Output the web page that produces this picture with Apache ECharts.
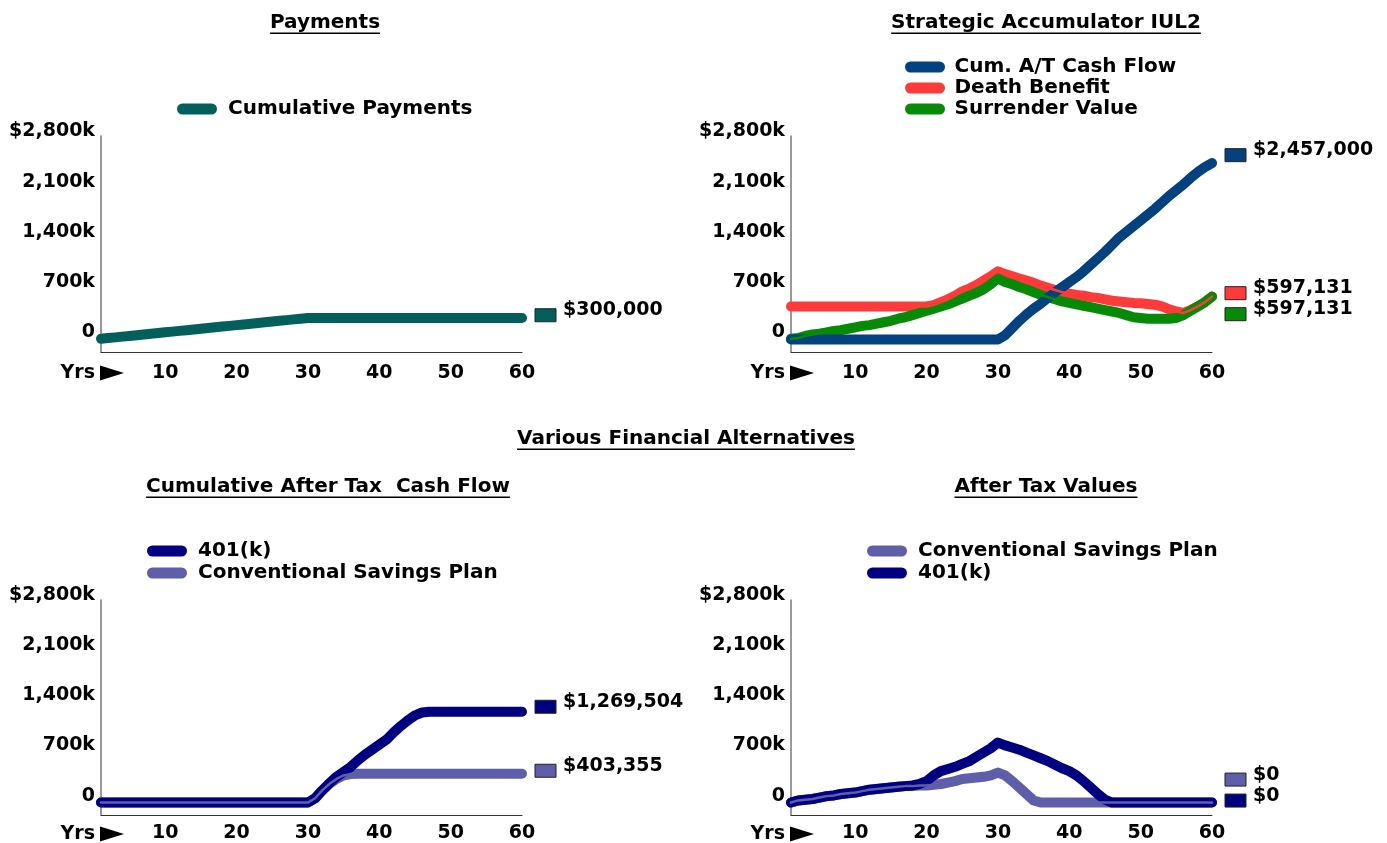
<!DOCTYPE html>
<html lang="en">
<head>
<meta charset="utf-8">
<title>Payments / Various Financial Alternatives</title>
<script src="https://cdn.jsdelivr.net/npm/echarts@6/dist/echarts.min.js"></script>
<style>
    html, body { margin: 0; padding: 0; background: #fff; }
    #main { width: 1387px; height: 843px; }
</style>
</head>
<body>
<div id="main"></div>
<script type="text/javascript">
    // ---- data ----
    const years = [1, 2, 3, 4, 5, 6, 7, 8, 9, 10, 11, 12, 13, 14, 15, 16, 17, 18, 19, 20,
        21, 22, 23, 24, 25, 26, 27, 28, 29, 30, 31, 32, 33, 34, 35, 36, 37, 38, 39, 40,
        41, 42, 43, 44, 45, 46, 47, 48, 49, 50, 51, 52, 53, 54, 55, 56, 57, 58, 59, 60];
    const yTicks = [0, 700000, 1400000, 2100000, 2800000];

    const cumPayments = [10000, 20000, 30000, 40000, 50000, 60000, 70000, 80000, 90000, 100000,
        110000, 120000, 130000, 140000, 150000, 160000, 170000, 180000, 190000, 200000,
        210000, 220000, 230000, 240000, 250000, 260000, 270000, 280000, 290000, 300000,
        300000, 300000, 300000, 300000, 300000, 300000, 300000, 300000, 300000, 300000,
        300000, 300000, 300000, 300000, 300000, 300000, 300000, 300000, 300000, 300000,
        300000, 300000, 300000, 300000, 300000, 300000, 300000, 300000, 300000, 300000];

    const cumAtCashFlow = [0, 0, 0, 0, 0, 0, 0, 0, 0, 0, 0, 0, 0, 0, 0, 0, 0, 0, 0, 0,
        0, 0, 0, 0, 0, 0, 0, 0, 0, 0,
        60000, 160000, 260000, 350000, 430000, 500000, 580000, 660000, 730000, 800000,
        870000, 950000, 1040000, 1130000, 1220000, 1320000, 1420000, 1500000, 1580000, 1660000,
        1740000, 1820000, 1910000, 2000000, 2080000, 2160000, 2250000, 2330000, 2400000, 2457000];
    const deathBenefit = [460000, 460000, 460000, 460000, 460000, 460000, 460000, 460000, 460000, 460000,
        460000, 460000, 460000, 460000, 460000, 460000, 460000, 460000, 460000, 460000,
        480000, 520000, 560000, 610000, 670000, 710000, 760000, 820000, 880000, 950000,
        910000, 880000, 850000, 820000, 790000, 750000, 720000, 690000, 660000, 640000,
        620000, 610000, 590000, 580000, 560000, 540000, 530000, 520000, 510000, 505000,
        495000, 485000, 460000, 420000, 390000, 370000, 410000, 460000, 520000, 597131];
    const surrenderValue = [10000, 20000, 50000, 70000, 80000, 100000, 120000, 130000, 150000, 170000,
        190000, 200000, 220000, 240000, 260000, 290000, 310000, 340000, 370000, 400000,
        430000, 460000, 490000, 530000, 570000, 610000, 650000, 700000, 770000, 850000,
        800000, 770000, 730000, 700000, 660000, 620000, 590000, 560000, 530000, 510000,
        490000, 470000, 450000, 430000, 410000, 390000, 370000, 340000, 310000, 300000,
        290000, 290000, 290000, 290000, 300000, 340000, 400000, 460000, 520000, 597131];

    const k401Cum = [0, 0, 0, 0, 0, 0, 0, 0, 0, 0, 0, 0, 0, 0, 0, 0, 0, 0, 0, 0,
        0, 0, 0, 0, 0, 0, 0, 0, 0, 0,
        60000, 170000, 270000, 360000, 430000, 500000, 590000, 670000, 740000, 810000,
        880000, 980000, 1070000, 1150000, 1220000, 1260000, 1269504, 1269504, 1269504, 1269504,
        1269504, 1269504, 1269504, 1269504, 1269504, 1269504, 1269504, 1269504, 1269504, 1269504];
    const conventionalCum = [0, 0, 0, 0, 0, 0, 0, 0, 0, 0, 0, 0, 0, 0, 0, 0, 0, 0, 0, 0,
        0, 0, 0, 0, 0, 0, 0, 0, 0, 0,
        60000, 170000, 260000, 330000, 380000, 400000, 403355, 403355, 403355, 403355,
        403355, 403355, 403355, 403355, 403355, 403355, 403355, 403355, 403355, 403355,
        403355, 403355, 403355, 403355, 403355, 403355, 403355, 403355, 403355, 403355];

    const conventionalAT = [0, 30000, 40000, 50000, 70000, 90000, 100000, 120000, 130000, 140000,
        160000, 180000, 190000, 200000, 210000, 220000, 230000, 230000, 240000, 240000,
        250000, 260000, 280000, 300000, 330000, 340000, 350000, 360000, 380000, 420000,
        380000, 300000, 210000, 120000, 30000, 0, 0, 0, 0, 0,
        0, 0, 0, 0, 0, 0, 0, 0, 0, 0, 0, 0, 0, 0, 0, 0, 0, 0, 0, 0];
    const k401AT = [0, 30000, 40000, 50000, 70000, 90000, 100000, 120000, 130000, 140000,
        160000, 180000, 190000, 200000, 210000, 220000, 230000, 240000, 260000, 300000,
        380000, 440000, 470000, 500000, 540000, 580000, 640000, 700000, 760000, 840000,
        800000, 770000, 740000, 700000, 660000, 620000, 580000, 530000, 480000, 440000,
        380000, 300000, 210000, 120000, 40000, 0, 0, 0, 0, 0,
        0, 0, 0, 0, 0, 0, 0, 0, 0, 0];

    // ---- styling ----
    const FONT = 'DejaVu Sans';
    const TEAL = '#035f5b';
    const BLUE = '#03417f';
    const RED = '#ff3a3a';
    const GREEN = '#078a07';
    const NAVY = '#000080';
    const LAVENDER = '#5e5eab';
    const PILL = 'path://M5.5,0H34.5A5.5,5.5,0,0,1,34.5,11H5.5A5.5,5.5,0,0,1,5.5,0Z';

    const grids = [
        {left: 101, top: 136, width: 421, height: 216},
        {left: 791, top: 136, width: 421, height: 216},
        {left: 101, top: 600, width: 421, height: 216},
        {left: 791, top: 600, width: 421, height: 216}
    ];
    const xLabelMargin = [12, 12, 9, 9];

    function fmtTick(v)
    {
        if (v === 0) return '0';
        const s = (v / 1000).toLocaleString('en-US') + 'k';
        return v === 2800000 ? '$' + s : s;
    }

    function line(name, data, color, i, width)
    {
        return {
            type: 'line', name: name, data: data,
            xAxisIndex: i, yAxisIndex: i,
            symbol: 'none', showSymbol: false, silent: true,
            color: color,
            lineStyle: {color: color, width: width, cap: 'round', join: 'round'}
        };
    }

    // panels: series in legend order, plus which ones get a thin centre line drawn on top
    const panels = [
        {
            title: 'Payments', tx: 325, ty: 22,
            legend: {left: 172, top: 93.5, w: 40, pad: 6, lh: 21},
            series: [{name: 'Cumulative Payments', data: cumPayments, color: TEAL}],
            thick: [0], thin: []
        },
        {
            title: 'Strategic Accumulator IUL2', tx: 1046, ty: 22,
            legend: {left: 900, top: 51.5, w: 45, pad: 2, lh: 21},
            series: [
                {name: 'Cum. A/T Cash Flow', data: cumAtCashFlow, color: BLUE},
                {name: 'Death Benefit', data: deathBenefit, color: RED},
                {name: 'Surrender Value', data: surrenderValue, color: GREEN}
            ],
            thick: [1, 2, 0], thin: [2, 1]
        },
        {
            title: 'Cumulative After Tax  Cash Flow', tx: 328, ty: 486,
            legend: {left: 142, top: 535, w: 40, pad: 6, lh: 22},
            series: [
                {name: '401(k)', data: k401Cum, color: NAVY},
                {name: 'Conventional Savings Plan', data: conventionalCum, color: LAVENDER}
            ],
            thick: [1, 0], thin: [1]
        },
        {
            title: 'After Tax Values', tx: 1046, ty: 486,
            legend: {left: 862, top: 535, w: 40, pad: 6, lh: 22},
            series: [
                {name: 'Conventional Savings Plan', data: conventionalAT, color: LAVENDER},
                {name: '401(k)', data: k401AT, color: NAVY}
            ],
            thick: [0, 1], thin: [0]
        }
    ];

    const textBase = {color: '#000', fontFamily: FONT, fontWeight: 'bold'};

    const xAxes = grids.map(function (g, i) {
        return {
            type: 'category', gridIndex: i, data: years, boundaryGap: false,
            axisLine: {onZero: false, lineStyle: {color: '#333', width: 1}},
            axisTick: {show: false},
            splitLine: {show: false},
            axisLabel: Object.assign({
                interval: function (idx, v) { return Number(v) % 10 === 0; },
                margin: xLabelMargin[i], fontSize: 19
            }, textBase)
        };
    });

    const yAxes = grids.map(function (g, i) {
        return {
            type: 'value', gridIndex: i, min: -174000, max: 2834000,
            axisLine: {show: true, lineStyle: {color: '#777', width: 1.5}},
            axisTick: {show: false},
            splitLine: {show: false},
            axisLabel: Object.assign({
                customValues: yTicks, formatter: fmtTick,
                margin: 6, fontSize: 19, verticalAlign: 'bottom', lineHeight: 14
            }, textBase)
        };
    });

    const series = [];
    const legends = [];
    panels.forEach(function (p, i) {
        p.thick.forEach(function (k) {
            const s = p.series[k];
            series.push(line(s.name, s.data, s.color, i, 10));
        });
        p.thin.forEach(function (k) {
            const s = p.series[k];
            series.push(line('_thin_' + s.name, s.data, s.color, i, 2.5));
        });
        legends.push({
            data: p.series.map(function (s) { return s.name; }),
            orient: 'vertical', left: p.legend.left, top: p.legend.top,
            itemWidth: p.legend.w, itemHeight: 11, itemGap: 0, icon: PILL,
            selectedMode: false,
            textStyle: Object.assign({fontSize: 20, lineHeight: p.legend.lh, padding: [0, 0, 0, p.legend.pad]}, textBase)
        });
    });

    const chart = echarts.init(document.getElementById('main'));
    chart.setOption({
        animation: false,
        backgroundColor: '#fff',
        grid: grids,
        xAxis: xAxes,
        yAxis: yAxes,
        legend: legends,
        series: series
    });

    // ---- titles, "Yrs" markers and end-value labels ----
    const ctx = document.createElement('canvas').getContext('2d');
    function textWidth(s, size)
    {
        ctx.font = 'bold ' + size + 'px "' + FONT + '"';
        return ctx.measureText(s).width;
    }

    const graphics = [];
    function addTitle(text, x, y)
    {
        const w = textWidth(text, 20);
        graphics.push({type: 'text', x: x, y: y + 1, style: {text: text, fontSize: 20, fontFamily: FONT, fontWeight: 'bold', align: 'center', verticalAlign: 'middle', fill: '#000'}});
        graphics.push({type: 'rect', shape: {x: x - w / 2, y: y + 10.5, width: w, height: 1.5}, style: {fill: '#000'}});
    }
    panels.forEach(function (p) { addTitle(p.title, p.tx, p.ty); });
    addTitle('Various Financial Alternatives', 686, 438);

    grids.forEach(function (g, i) {
        const axisY = g.top + g.height;
        const cy = axisY + xLabelMargin[i] + 9;
        graphics.push({type: 'text', x: g.left - 6, y: cy, style: {text: 'Yrs', fontSize: 19, fontFamily: FONT, fontWeight: 'bold', align: 'right', verticalAlign: 'middle', fill: '#000'}});
        graphics.push({type: 'polygon', shape: {points: [[g.left - 1, cy - 7.5], [g.left + 23, cy], [g.left - 1, cy + 7.5]]}, style: {fill: '#000'}});

        // end labels, in legend order, kept 21px apart and above the zero line
        const p = panels[i];
        const right = g.left + g.width;
        const limit = chart.convertToPixel({yAxisIndex: i}, 0) - 7;
        const ys = p.series.map(function (s) {
            const v = s.data[s.data.length - 1];
            return chart.convertToPixel({yAxisIndex: i}, v) - 7 - 2.4 * v / 1000000;
        });
        for (let k = 1; k < ys.length; k++) ys[k] = Math.max(ys[k], ys[k - 1] + 21);
        const over = ys[ys.length - 1] - limit;
        if (over > 0) for (let k = 0; k < ys.length; k++) ys[k] -= over;

        p.series.forEach(function (s, k) {
            const v = s.data[s.data.length - 1];
            graphics.push({type: 'rect', shape: {x: right + 13, y: ys[k] - 1.5, width: 21, height: 13}, style: {fill: s.color, stroke: '#222', lineWidth: 1}});
            graphics.push({type: 'text', x: right + 41, y: ys[k], style: {text: '$' + v.toLocaleString('en-US'), fontSize: 19, fontFamily: FONT, fontWeight: 'bold', align: 'left', verticalAlign: 'middle', fill: '#000'}});
        });
    });

    chart.setOption({graphic: graphics});
</script>
</body>
</html>
